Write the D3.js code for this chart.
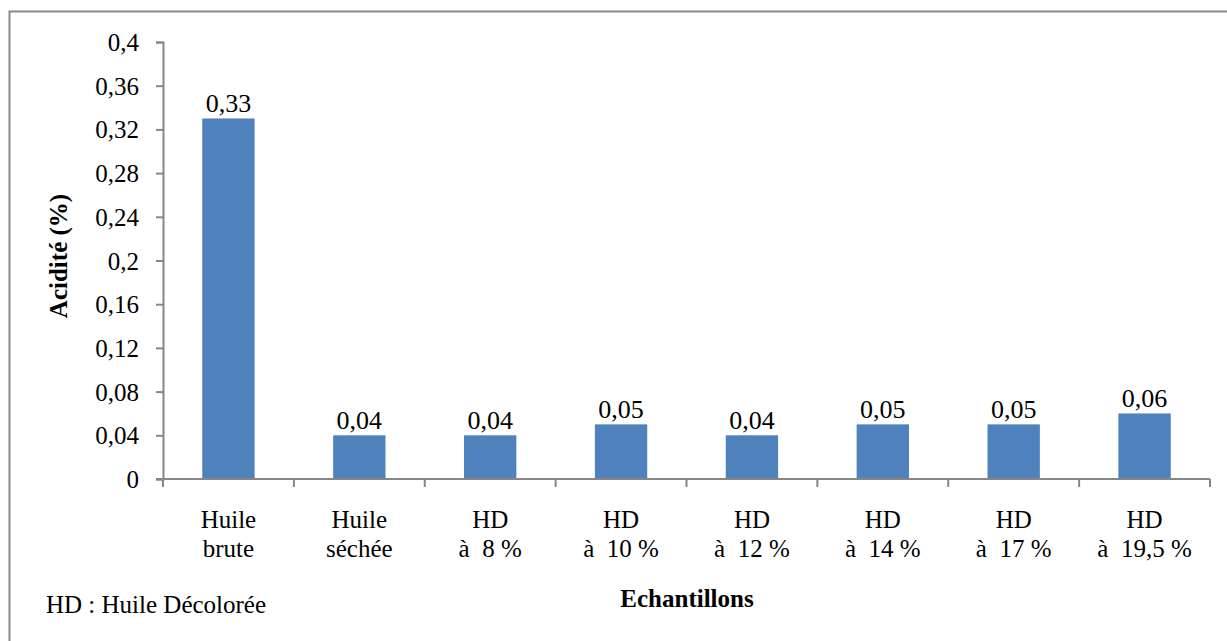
<!DOCTYPE html>
<html>
<head>
<meta charset="utf-8">
<script src="https://cdn.jsdelivr.net/npm/d3@7"></script>
<style>
  html, body { margin: 0; padding: 0; background: #fff; }
  svg { display: block; }
</style>
</head>
<body>
<svg id="chart" width="1227" height="641" font-family="Liberation Serif"></svg>
<script>
// Acidity of each oil sample
const categoriesLine1 = ["Huile", "Huile", "HD", "HD", "HD", "HD", "HD", "HD"];
const categoriesLine2 = ["brute", "séchée", "à  8 %", "à  10 %", "à  12 %", "à  14 %", "à  17 %", "à  19,5 %"];
const acidite = [0.33, 0.04, 0.04, 0.05, 0.04, 0.05, 0.05, 0.06];
const valueLabels = ["0,33", "0,04", "0,04", "0,05", "0,04", "0,05", "0,05", "0,06"];
const yTicks = [0, 0.04, 0.08, 0.12, 0.16, 0.2, 0.24, 0.28, 0.32, 0.36, 0.4];
const yTickLabels = ["0", "0,04", "0,08", "0,12", "0,16", "0,2", "0,24", "0,28", "0,32", "0,36", "0,4"];

const FONT = "Liberation Serif";
const svg = d3.select("#chart");
const axisColor = "#868686";
const barColor = "#4F81BD";

// outer frame
svg.append("rect")
  .attr("x", 9.5).attr("y", 11.5)
  .attr("width", 1240).attr("height", 660)
  .attr("fill", "none").attr("stroke", "#8a8a8a").attr("stroke-width", 2);

const x0 = 163, x1 = 1210, yTop = 42, yBottom = 479;
const idx = d3.range(acidite.length);

const x = d3.scaleBand().domain(idx).range([x0, x1]).paddingInner(0.6).paddingOuter(0.3);
const xCat = d3.scaleBand().domain(idx).range([x0, x1]);
const y = d3.scaleLinear().domain([0, 0.4]).range([yBottom, yTop]);

// y axis
const yAxis = svg.append("g").attr("transform", `translate(${x0},0)`)
  .call(d3.axisLeft(y).tickValues(yTicks).tickSize(7).tickPadding(17)
    .tickFormat((d, i) => yTickLabels[i]));
yAxis.attr("font-family", FONT).attr("font-size", 25);
yAxis.select(".domain").attr("stroke", axisColor).attr("stroke-width", 2);
yAxis.selectAll(".tick line").attr("stroke", axisColor).attr("stroke-width", 2);
yAxis.selectAll(".tick text").attr("fill", "#000").attr("dy", "0.34em");

// bars
svg.append("g").selectAll("rect").data(idx).join("rect")
  .attr("x", i => x(i))
  .attr("width", x.bandwidth())
  .attr("y", i => y(acidite[i]))
  .attr("height", i => y(0) - y(acidite[i]))
  .attr("fill", barColor);

// x axis line with category separators
const xg = svg.append("g");
xg.append("line")
  .attr("x1", x0 - 7).attr("x2", x1)
  .attr("y1", y(0)).attr("y2", y(0))
  .attr("stroke", axisColor).attr("stroke-width", 2);
xg.selectAll("line.sep").data(d3.range(acidite.length + 1)).join("line")
  .attr("class", "sep")
  .attr("x1", i => i < acidite.length ? xCat(i) : x1)
  .attr("x2", i => i < acidite.length ? xCat(i) : x1)
  .attr("y1", y(0)).attr("y2", y(0) + 8)
  .attr("stroke", axisColor).attr("stroke-width", 2);

// value labels above bars
svg.append("g").selectAll("text").data(idx).join("text")
  .attr("x", i => x(i) + x.bandwidth() / 2)
  .attr("y", i => y(acidite[i]) - 6)
  .attr("text-anchor", "middle")
  .attr("font-family", FONT)
  .attr("font-size", 26)
  .text(i => valueLabels[i]);

// category labels (two lines)
const cat = svg.append("g").selectAll("text").data(idx).join("text")
  .attr("text-anchor", "middle")
  .attr("font-family", FONT)
  .attr("font-size", 25)
  .style("white-space", "pre");
cat.append("tspan")
  .attr("x", i => xCat(i) + xCat.bandwidth() / 2)
  .attr("y", 528)
  .text(i => categoriesLine1[i]);
cat.append("tspan")
  .attr("x", i => xCat(i) + xCat.bandwidth() / 2)
  .attr("y", 557)
  .text(i => categoriesLine2[i]);

// axis titles
svg.append("text")
  .attr("x", 687).attr("y", 607)
  .attr("text-anchor", "middle")
  .attr("font-family", FONT)
  .attr("font-size", 25).attr("font-weight", "bold")
  .text("Echantillons");

svg.append("text")
  .attr("transform", "translate(67,256) rotate(-90)")
  .attr("text-anchor", "middle")
  .attr("font-family", FONT)
  .attr("font-size", 25).attr("font-weight", "bold")
  .text("Acidité (%)");

// abbreviation note
svg.append("text")
  .attr("x", 46).attr("y", 613)
  .attr("font-family", FONT)
  .attr("font-size", 25)
  .text("HD : Huile Décolorée");
</script>
</body>
</html>
